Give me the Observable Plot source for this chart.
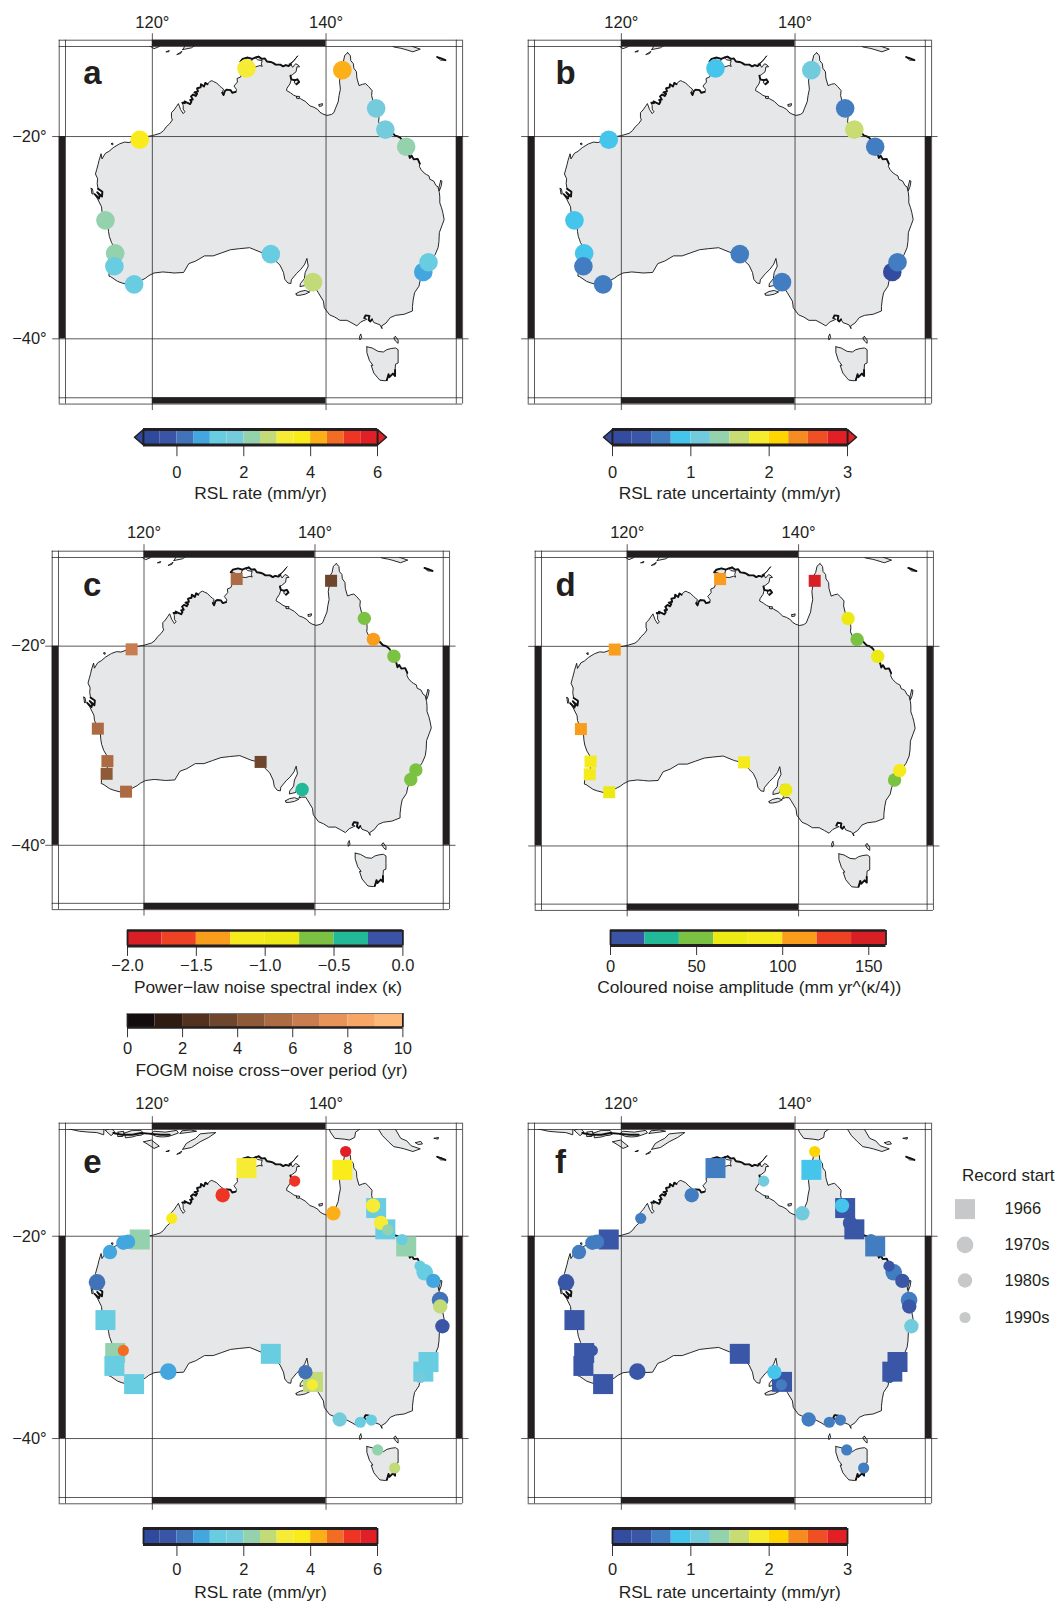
<!DOCTYPE html>
<html><head><meta charset="utf-8">
<script src="https://cdn.jsdelivr.net/npm/d3@7"></script>
<script src="https://cdn.jsdelivr.net/npm/@observablehq/plot@0.6"></script>
<style>html,body{margin:0;padding:0;background:#fff;overflow:hidden}#page{position:relative;width:1058px;height:1602px;overflow:hidden}</style>
</head><body><div id="page"></div>
<script>
// ---------- colour bins ----------
const rateBreaks=[-1,-0.5,0,0.5,1,1.5,2,2.5,3,3.5,4,4.5,5,5.5,6];
const rateColors=["#2f4a9d","#3a55a5","#4272b8","#43a6df","#69cde2","#74cbdc","#93d2ad","#c3da79","#f6ec35","#faeb1a","#fcaf17","#f36c23","#ee3524","#e01f26"];
const uncBreaks=[0,0.25,0.5,0.75,1,1.25,1.5,1.75,2,2.25,2.5,2.75,3];
const uncColors=["#334c9f","#3a56a6","#437dc1","#45c4ec","#72cbdc","#93d2ad","#c8dc74","#f6ec2f","#ffd500","#f68b1f","#f04e23","#e31f26"];
const kappaBreaks=[-2,-1.75,-1.5,-1.25,-1,-0.75,-0.5,-0.25,0];
const kappaColors=["#d91f26","#ef4123","#f99d1c","#f5ea1b","#ece915","#7cc242","#21b998","#3a53a4"];
const ampBreaks=[0,20,40,60,80,100,120,140,160];
const ampColors=["#3a53a4","#21b998","#7cc242","#ece915","#f5ea1b","#f99d1c","#ef4123","#d91f26"];
const fogmBreaks=[0,1,2,3,4,5,6,7,8,9,10];
const fogmColors=["#130c0e","#2f1b12","#52321e","#6e452d","#8f5a37","#ad6b43","#c97d4e","#e8935a","#f6a768","#fbb879"];

// ---------- long-record tide gauges (panels a-f) ----------
const longNames=["Darwin","Weipa","Cairns","Townsville","Mackay","Port Hedland","Geraldton","Fremantle","Bunbury","Albany","Thevenard","Port Adelaide","Sydney","Newcastle"];
const longLon=[130.84,141.88,145.77,146.83,149.23,118.55,114.6,115.72,115.63,117.9,133.64,138.5,151.2,151.8];
const longLat=[-12.47,-12.67,-16.92,-19.25,-21.1,-20.35,-28.78,-32.05,-33.3,-35.03,-32.13,-34.82,-33.85,-32.92];
const rateA=[3.25,4.25,1.75,1.75,2.25,3.75,2.25,2.25,1.25,1.25,1.25,2.75,0.75,1.25];
const uncB=[0.875,1.125,0.625,1.625,0.625,0.875,0.875,0.875,0.625,0.625,0.625,0.625,0.125,0.625];
const kappaC=[null,null,-0.6,-1.4,-0.6,null,null,null,null,null,null,-0.4,-0.6,-0.6];
const fogmC=[5.5,3.5,null,null,null,6.5,5.5,5.5,4.5,5.5,3.5,null,null,null];
const ampD=[110,150,70,50,70,110,110,90,90,70,90,70,50,90];
const rateE=[3.25,3.75,1.25,1.25,2.25,2.25,1.25,2.25,1.25,1.25,1.25,2.75,1.25,1.25];
const uncF=[0.625,0.875,0.375,0.375,0.625,0.375,0.375,0.375,0.375,0.375,0.375,0.375,0.375,0.375];

// ---------- shorter-record gauges (panels e, f) ----------
const shortNames=["Carnarvon","Exmouth","Onslow","Dampier","Esperance","Gladstone","Mooloolaba","Whyalla","Wyndham","Karumba","Port Douglas","Lucinda","Bundaberg","Brisbane","Yamba","Portland","Hillarys","Thursday Island","Milner Bay","Broome","Cape Ferguson","Shute Harbour","Rosslyn Bay","Victor Harbor","Lorne","Stony Point","Burnie","Spring Bay","Port Kembla"];
const shortLon=[113.63,115.12,117.2,116.66,121.84,151.36,153.13,137.62,128.1,140.84,145.41,146.33,152.36,153.15,153.4,141.57,116.66,142.26,136.39,122.23,147.1,148.75,150.82,138.43,143.95,145.22,145.95,147.9,150.86];
const shortLat=[-24.9,-21.7,-20.6,-20.7,-33.85,-23.85,-26.75,-33.9,-15.5,-17.5,-16.65,-18.55,-24.75,-27.4,-29.4,-38.3,-31.8,-10.6,-13.93,-18.05,-19.3,-20.35,-23.2,-35.1,-38.55,-38.35,-41.0,-42.55,-34.4];
const shortDecade=[1970,1980,1980,1980,1970,1970,1970,1980,1980,1980,1980,1980,1980,1980,1980,1980,1990,1990,1990,1990,1990,1990,1990,1990,1990,1990,1990,1990,1990];
const shortRate=[0.25,0.75,0.75,0.75,0.75,1.25,0.25,0.25,5.25,4.25,3.25,3.25,0.75,2.75,-0.25,1.75,4.75,5.75,5.25,3.75,2.25,1.25,1.25,3.25,1.25,1.25,2.25,2.75,1.75];
const shortUnc=[0.375,0.625,0.625,0.625,0.375,0.625,0.625,0.875,0.625,1.125,0.875,0.375,0.375,0.375,1.125,0.625,0.375,2.125,1.125,0.625,0.375,0.625,0.375,0.625,0.625,0.625,0.625,0.625,0.375];

// ---------- coastlines [lon,lat] ----------
const mainland=[[142.5,-10.7],[142.8,-11.05],[142.85,-11.6],[143.15,-11.95],[143.2,-12.45],[143.5,-12.85],[143.55,-13.55],[143.8,-14.4],[144.2,-14.25],[144.55,-14.18],[144.9,-14.5],[145.3,-14.95],[145.25,-15.5],[145.45,-16.3],[145.8,-16.85],[146.05,-17.4],[146.1,-17.95],[146.05,-18.4],[146.3,-18.9],[146.85,-19.25],[147.45,-19.4],[147.95,-19.9],[148.25,-19.98],[148.5,-20.1],[148.75,-20.35],[148.95,-20.85],[149.2,-21.1],[149.45,-21.6],[149.65,-22.3],[149.85,-22.05],[150.1,-22.45],[150.55,-22.4],[150.8,-22.9],[150.75,-23.2],[150.95,-23.55],[151.3,-23.9],[151.55,-24.05],[151.85,-24.2],[151.95,-24.55],[152.4,-24.75],[152.65,-25.2],[152.9,-25.35],[152.95,-25.6],[153.05,-25.95],[153.1,-26.4],[153.1,-27.0],[153.3,-27.5],[153.45,-28.0],[153.6,-28.7],[153.35,-29.3],[153.05,-30.0],[153.0,-30.9],[152.9,-31.5],[152.55,-32.2],[152.1,-32.75],[151.7,-33.05],[151.3,-33.6],[151.15,-34.1],[150.85,-34.6],[150.7,-35.2],[150.2,-35.8],[150.05,-36.4],[149.95,-37.1],[149.95,-37.5],[149.0,-37.8],[148.0,-37.9],[147.4,-38.1],[146.9,-38.6],[146.4,-38.85],[146.45,-39.1],[146.2,-38.75],[145.5,-38.55],[145.3,-38.25],[145.1,-38.45],[144.9,-38.3],[145.0,-37.95],[144.55,-37.9],[144.4,-38.15],[144.7,-38.25],[144.0,-38.5],[143.55,-38.85],[143.0,-38.6],[142.4,-38.35],[141.6,-38.35],[141.0,-38.05],[140.4,-37.85],[139.8,-37.2],[139.7,-36.6],[139.1,-35.8],[138.9,-35.55],[138.45,-35.55],[138.1,-35.65],[138.5,-35.1],[138.5,-34.75],[138.1,-34.3],[137.9,-34.6],[137.75,-35.1],[137.0,-35.25],[137.05,-34.95],[137.5,-34.5],[137.6,-33.9],[137.95,-33.3],[137.8,-32.55],[137.55,-33.1],[137.1,-33.6],[136.6,-34.0],[136.0,-34.6],[135.95,-34.95],[135.6,-34.9],[135.25,-34.55],[135.1,-33.9],[134.7,-33.2],[134.2,-32.8],[133.7,-32.15],[133.2,-32.1],[132.5,-31.95],[131.2,-31.5],[130.0,-31.6],[129.0,-31.7],[128.0,-32.0],[127.0,-32.3],[126.0,-32.3],[125.0,-32.8],[124.2,-33.05],[123.6,-33.9],[122.5,-33.95],[121.9,-33.9],[121.2,-33.85],[120.2,-33.95],[119.6,-34.2],[119.2,-34.45],[118.5,-34.75],[117.9,-35.05],[117.2,-35.05],[116.5,-34.9],[116.0,-34.75],[115.2,-34.3],[115.0,-34.25],[115.05,-33.7],[115.4,-33.6],[115.7,-33.2],[115.7,-32.5],[115.75,-32.0],[115.65,-31.5],[115.3,-31.0],[115.05,-30.4],[114.95,-29.9],[114.9,-29.3],[114.6,-28.8],[114.2,-27.9],[114.15,-27.4],[113.7,-26.6],[113.35,-26.1],[113.7,-26.4],[113.85,-26.55],[113.95,-26.25],[113.65,-25.9],[114.2,-26.35],[114.25,-25.85],[113.75,-25.55],[113.65,-25.0],[113.7,-24.5],[113.45,-24.0],[113.6,-23.5],[113.75,-23.0],[113.85,-22.6],[114.1,-21.85],[114.2,-22.4],[114.6,-21.8],[115.0,-21.6],[115.5,-21.2],[116.2,-20.8],[116.8,-20.6],[117.3,-20.65],[118.2,-20.35],[118.9,-20.05],[119.4,-20.0],[120.0,-19.9],[120.9,-19.65],[121.3,-19.35],[121.6,-18.95],[122.0,-18.6],[122.3,-18.2],[122.2,-17.9],[122.2,-17.4],[122.5,-17.1],[122.75,-16.75],[123.0,-16.4],[123.25,-17.05],[123.55,-17.5],[123.75,-17.3],[123.55,-17.0],[123.55,-16.6],[123.45,-16.3],[123.75,-16.35],[123.7,-16.15],[124.0,-16.3],[124.35,-16.45],[124.5,-16.2],[124.35,-16.0],[124.65,-15.95],[124.45,-15.6],[124.7,-15.4],[125.0,-15.55],[125.15,-15.3],[124.85,-15.15],[125.25,-15.05],[125.15,-14.7],[125.55,-14.6],[125.6,-14.25],[125.95,-14.5],[126.1,-14.1],[126.35,-14.25],[126.6,-13.95],[126.85,-13.85],[127.05,-13.95],[127.4,-14.1],[127.75,-14.45],[128.0,-14.65],[128.2,-14.8],[128.05,-15.2],[128.2,-15.45],[128.35,-15.0],[128.55,-14.85],[129.0,-14.9],[129.2,-15.2],[129.6,-15.1],[129.7,-14.85],[129.4,-14.45],[129.8,-14.0],[129.75,-13.6],[130.15,-13.45],[130.3,-13.1],[130.6,-12.75],[130.85,-12.5],[130.95,-12.75],[131.05,-12.25],[131.4,-12.25],[131.9,-12.3],[132.4,-12.15],[132.65,-12.25],[132.55,-11.95],[132.65,-11.6],[132.1,-11.5],[131.85,-11.25],[132.25,-11.15],[132.6,-11.4],[132.95,-11.35],[133.2,-11.7],[133.6,-11.75],[133.9,-11.85],[134.2,-12.05],[134.75,-12.05],[135.05,-12.25],[135.35,-12.1],[135.7,-12.2],[135.95,-12.0],[136.15,-12.35],[136.5,-11.95],[136.8,-12.1],[136.95,-12.3],[136.65,-12.3],[136.55,-12.85],[136.1,-13.2],[135.9,-13.3],[136.0,-13.7],[135.85,-14.2],[135.5,-14.7],[135.45,-14.95],[135.9,-15.2],[136.25,-15.45],[136.6,-15.6],[137.05,-15.85],[137.6,-16.15],[138.15,-16.65],[138.6,-16.8],[139.05,-17.05],[139.3,-17.35],[139.65,-17.55],[140.1,-17.7],[140.6,-17.6],[140.9,-17.4],[141.1,-16.9],[141.4,-16.2],[141.5,-15.5],[141.65,-14.8],[141.55,-13.9],[141.65,-13.3],[141.6,-12.9],[141.85,-12.5],[141.7,-12.2],[142.0,-11.7],[142.15,-11.0],[142.5,-10.7]];
const tasmania=[[144.7,-40.7],[145.3,-40.8],[146.0,-41.1],[146.6,-41.15],[147.0,-40.95],[147.5,-40.85],[148.0,-40.8],[148.3,-40.95],[148.3,-41.6],[148.3,-42.1],[148.0,-42.2],[147.95,-42.7],[147.95,-43.2],[147.7,-43.0],[147.3,-43.3],[147.2,-43.05],[147.0,-43.55],[146.8,-43.6],[146.2,-43.55],[145.95,-43.35],[145.5,-42.95],[145.2,-42.3],[145.4,-42.3],[145.0,-41.9],[144.7,-41.2],[144.7,-40.7]];
const kangaroo=[[136.55,-35.9],[137.0,-35.7],[137.6,-35.6],[138.1,-35.75],[137.6,-35.95],[137.0,-36.05],[136.6,-36.05],[136.55,-35.9]];
const kingIs=[[144.0,-39.6],[144.1,-39.9],[143.9,-40.1],[143.85,-39.8],[144.0,-39.6]];
const flinders=[[148.0,-39.8],[148.3,-40.1],[148.3,-40.4],[148.0,-40.2],[147.8,-39.9],[148.0,-39.8]];
const melville=[[130.4,-11.4],[131.0,-11.25],[131.5,-11.4],[131.4,-11.8],[130.9,-11.9],[130.5,-11.75],[130.1,-11.7],[130.4,-11.4]];
const groote=[[136.4,-13.8],[136.7,-13.7],[136.9,-14.0],[136.6,-14.25],[136.35,-14.1],[136.4,-13.8]];
const mornington=[[139.2,-16.5],[139.6,-16.4],[139.55,-16.65],[139.2,-16.7],[139.2,-16.5]];
const pellew=[[136.6,-15.6],[136.95,-15.6],[136.9,-15.85],[136.6,-15.8],[136.6,-15.6]];
const wessel=[[135.75,-12.0],[136.2,-11.7],[136.75,-11.05],[136.3,-11.6],[135.85,-12.05],[135.75,-12.0]];
const dirkHartog=[[112.95,-25.5],[113.1,-25.55],[113.2,-26.05],[113.05,-26.1],[112.95,-25.5]];
const barrow=[[115.3,-20.75],[115.45,-20.7],[115.45,-20.9],[115.3,-20.85],[115.3,-20.75]];
const fraser=[[153.2,-24.7],[153.35,-24.75],[153.25,-25.3],[153.05,-25.75],[153.0,-25.4],[153.2,-24.7]];
const timor=[[123.5,-10.35],[124.5,-10.15],[125.5,-9.5],[126.5,-9.0],[127.3,-8.45],[126.5,-8.5],[125.5,-8.6],[125.0,-9.1],[124.4,-9.4],[123.9,-9.7],[123.5,-10.35]];
const rote=[[122.85,-10.9],[123.4,-10.55],[123.25,-10.8],[122.85,-10.9]];
const savu=[[121.6,-10.6],[121.95,-10.45],[121.9,-10.6],[121.6,-10.6]];
const sumba=[[119.0,-9.5],[119.9,-9.3],[120.8,-10.0],[120.2,-10.25],[119.5,-9.8],[119.0,-9.5]];
const java=[[110.0,-7.5],[110.0,-7.95],[111.6,-8.3],[112.7,-8.4],[113.6,-8.45],[114.4,-8.7],[114.45,-7.5],[110.0,-7.5]];
const bali=[[114.6,-8.2],[114.9,-8.5],[115.25,-8.8],[115.7,-8.4],[115.2,-7.9],[114.6,-8.2]];
const lombok=[[116.05,-8.4],[116.0,-8.9],[116.6,-8.9],[116.7,-8.3],[116.05,-8.4]];
const sumbawa=[[116.8,-8.5],[116.9,-9.05],[117.7,-8.95],[118.2,-8.8],[118.7,-8.75],[119.0,-8.6],[118.7,-8.2],[117.7,-8.2],[116.8,-8.5]];
const flores=[[119.8,-8.6],[120.5,-8.9],[121.2,-8.95],[121.8,-8.9],[122.3,-8.75],[123.0,-8.5],[122.8,-8.2],[121.5,-8.4],[120.2,-8.3],[119.8,-8.6]];
const alor=[[123.2,-8.55],[124.0,-8.45],[125.1,-8.3],[124.4,-8.15],[123.4,-8.25],[123.2,-8.55]];
const newGuineaW=[[140.15,-7.5],[140.5,-8.4],[141.0,-9.1],[142.1,-9.2],[142.7,-9.3],[143.3,-9.0],[143.4,-8.4],[143.9,-8.05],[143.9,-7.5],[140.15,-7.5]];
const newGuineaE=[[146.0,-7.5],[146.05,-8.1],[146.5,-8.8],[147.2,-9.5],[147.8,-10.05],[148.6,-10.2],[149.0,-10.3],[150.0,-10.6],[150.85,-10.3],[149.8,-9.95],[149.3,-9.4],[148.6,-9.1],[148.0,-8.1],[147.8,-7.5],[146.0,-7.5]];
const woodlark=[[152.45,-9.1],[152.95,-9.0],[152.9,-9.2],[152.45,-9.1]];
const louisiade=[[152.8,-11.2],[153.25,-11.35],[153.75,-11.55],[153.2,-11.55],[152.8,-11.2]];
const fergusson=[[150.3,-9.6],[150.9,-9.45],[151.1,-9.75],[150.6,-9.8],[150.3,-9.6]];
const coastRings=[mainland,tasmania,kangaroo,kingIs,flinders,melville,groote,mornington,pellew,wessel,dirkHartog,barrow,fraser,timor,rote,savu,sumba,java,bali,lombok,sumbawa,flores,alor,newGuineaW,newGuineaE,woodlark,louisiade,fergusson];
const coastPoints=coastRings.flatMap((ring,id)=>ring.map(p=>({lon:p[0],lat:p[1],id})));
// stretches where the fine islets make the coast read as a heavy line
const kimberleyRough=[[123.45,-16.3],[123.75,-16.35],[123.7,-16.15],[124.0,-16.3],[124.35,-16.45],[124.5,-16.2],[124.35,-16.0],[124.65,-15.95],[124.45,-15.6],[124.7,-15.4],[125.0,-15.55],[125.15,-15.3],[124.85,-15.15],[125.25,-15.05],[125.15,-14.7],[125.55,-14.6],[125.6,-14.25],[125.95,-14.5],[126.1,-14.1],[126.35,-14.25]];
const cambridgeRough=[[128.05,-15.2],[128.2,-15.45],[128.35,-15.0],[128.55,-14.85],[129.0,-14.9],[129.2,-15.2],[129.6,-15.1]];
const tiwiRough=[[130.15,-11.7],[130.4,-11.4],[131.0,-11.25],[131.5,-11.4],[131.85,-11.25],[132.25,-11.15]];
const arnhemRough=[[132.25,-11.15],[132.6,-11.4],[132.95,-11.35],[133.2,-11.7],[133.6,-11.75],[133.9,-11.85],[134.2,-12.05],[134.75,-12.05],[135.05,-12.25],[135.35,-12.1],[135.7,-12.2],[135.95,-12.0]];
const grooteRough=[[135.9,-13.3],[136.0,-13.7],[136.4,-13.8],[136.7,-13.7],[136.9,-14.0],[136.6,-14.25]];
const sharkRough=[[113.35,-26.1],[113.7,-26.4],[113.85,-26.55],[113.95,-26.25],[113.65,-25.9],[114.2,-26.35],[114.25,-25.85],[113.75,-25.55]];
const whitsundayRough=[[147.45,-19.4],[147.95,-19.9],[148.25,-19.98],[148.5,-20.1],[148.75,-20.35]];
const shoalwaterRough=[[149.2,-21.1],[149.45,-21.6],[149.65,-22.3],[149.85,-22.05],[150.1,-22.45],[150.55,-22.4],[150.8,-22.9]];
const tasmanRough=[[147.95,-42.7],[147.95,-43.2],[147.7,-43.0],[147.3,-43.3],[147.2,-43.05],[147.0,-43.55]];
const phillipRough=[[145.3,-38.25],[145.1,-38.45],[144.9,-38.3],[145.0,-37.95],[144.55,-37.9],[144.4,-38.15]];
const nusaRough=[[115.5,-8.5],[116.5,-8.7],[117.7,-8.7],[118.7,-8.5],[119.9,-8.6],[121.0,-8.7],[122.0,-8.7]];
const louisiadeRough=[[152.8,-11.2],[153.25,-11.35],[153.75,-11.55]];
const roughRuns=[kimberleyRough,cambridgeRough,tiwiRough,arnhemRough,grooteRough,sharkRough,whitsundayRough,shoalwaterRough,tasmanRough,phillipRough,nusaRough,louisiadeRough];
const roughPoints=roughRuns.flatMap((run,id)=>run.map(p=>({lon:p[0],lat:p[1],id})));

// ---------- helpers ----------
const INK="#231f20", LAND="#e6e7e8", FONT="'Liberation Sans',Arial,sans-serif";
const TICK_FS=16.5, CAP_FS=17.35;
const page=document.getElementById("page");
const merc=lat=>Math.log(Math.tan(Math.PI/4+lat*Math.PI/360))*180/Math.PI;
const longTable=longNames.map((name,i)=>({name,lon:longLon[i],lat:longLat[i],rateA:rateA[i],uncB:uncB[i],kappa:kappaC[i],fogm:fogmC[i],amp:ampD[i],rateE:rateE[i],uncF:uncF[i]}));
const shortTable=shortNames.map((name,i)=>({name,lon:shortLon[i],lat:shortLat[i],decade:shortDecade[i],rate:shortRate[i],unc:shortUnc[i]}));
const thresholds=(breaks,colors)=>({type:"threshold",domain:breaks.slice(1,-1),range:colors});
const place=(el,left,top)=>{el.style.position="absolute";el.style.left=left+"px";el.style.top=top+"px";page.appendChild(el);};
const svgStyle={background:"transparent",fontFamily:FONT,maxWidth:"none",overflow:"visible"};

function mapPanel(c){
  const k=c.k,ml=60,mr=30,mt=45,mb=25;
  const innerL=c.x120-10*k, innerT=c.y20-(merc(c.latTop)-merc(-20))*k, innerH=(merc(c.latTop)-merc(-45))*k;
  const gap=6.3/k, tick=6.5/k;
  const L=110,R=155,B=merc(-45),T=merc(c.latTop);
  const OL=L-gap,OR=R+gap,OB=B-gap,OT=T+gap;
  const bars=[[120,140,T,OT],[120,140,OB,B],[OL,L,merc(-40),merc(-20)],[R,OR,merc(-40),merc(-20)]];
  const lineOpts={stroke:INK,strokeWidth:0.75};
  const marks=[
    Plot.line(coastPoints,{x:"lon",y:d=>merc(d.lat),z:"id",curve:"linear",fill:LAND,stroke:"#111",strokeWidth:0.9,clip:"frame"}),
    Plot.line(roughPoints,{x:"lon",y:d=>merc(d.lat),z:"id",curve:"linear",stroke:"#111",strokeWidth:1.9,clip:"frame"}),
    Plot.ruleX([OL,L,R,OR],{y1:OB,y2:OT,...lineOpts}),
    Plot.ruleY([OB,B,T,OT],{x1:OL,x2:OR,...lineOpts}),
    Plot.ruleX([120,140],{y1:OB-tick,y2:OT+tick,...lineOpts}),
    Plot.ruleY([merc(-20),merc(-40)],{x1:OL-tick,x2:OR+tick,...lineOpts}),
    Plot.rect(bars,{x1:d=>d[0],x2:d=>d[1],y1:d=>d[2],y2:d=>d[3],fill:INK}),
    Plot.axisX([120,140],{anchor:"top",tickSize:0,tickPadding:c.topPad,tickFormat:d=>d+"°",fontSize:TICK_FS,fill:INK,label:null}),
    ...c.marks,
    Plot.text([c.letter],{frameAnchor:"top-left",dx:c.letterX-innerL,dy:c.letterBase-innerT-0.32*33,lineAnchor:"middle",textAnchor:"start",fontSize:33,fontWeight:"bold",fill:INK})
  ];
  if(c.leftPad!=null) marks.push(Plot.axisY([-20,-40].map(merc),{anchor:"left",tickSize:0,tickPadding:c.leftPad,tickFormat:d=>"\u2212"+Math.round(Math.abs(d)<30?20:40)+"°",fontSize:TICK_FS,fill:INK,label:null}));
  const el=Plot.plot({width:45*k+ml+mr,height:innerH+mt+mb,marginLeft:ml,marginRight:mr,marginTop:mt,marginBottom:mb,
    style:svgStyle,x:{domain:[L,R],axis:null,label:null},y:{domain:[B,T],axis:null,label:null},color:c.color,marks});
  place(el,innerL-ml,innerT-mt);
}
function circles(data,fill,r){return Plot.dot(data,{x:"lon",y:d=>merc(d.lat),r,fill,stroke:"none"});}
function squares(data,fill,r){return Plot.dot(data,{x:"lon",y:d=>merc(d.lat),r,fill,symbol:"square",stroke:"none"});}
const SQ=side=>side/Math.sqrt(Math.PI);
function recordMarks(field,shortField){
  return [squares(longTable,field,SQ(20)),
    circles(shortTable.filter(d=>d.decade===1970),shortField,8.3),
    circles(shortTable.filter(d=>d.decade===1980),shortField,7.2),
    circles(shortTable.filter(d=>d.decade===1990),shortField,5.6)];
}
function colorbar(c){
  const ml=60,mr=60,mt=8,mb=70;
  const a=c.breaks[0],b=c.breaks[c.breaks.length-1];
  const bins=c.colors.map((col,i)=>({x1:c.breaks[i],x2:c.breaks[i+1],v:(c.breaks[i]+c.breaks[i+1])/2}));
  const unit=(b-a)/(c.right-c.left);
  const marks=[];
  if(c.arrows){
    const t=9*unit;
    marks.push(Plot.line([[a,0],[a-t,0.5],[a,1],[a,0]],{x:d=>d[0],y:d=>d[1],curve:"linear",fill:c.colors[0],stroke:INK,strokeWidth:1.6}));
    marks.push(Plot.line([[b,0],[b+t,0.5],[b,1],[b,0]],{x:d=>d[0],y:d=>d[1],curve:"linear",fill:c.colors[c.colors.length-1],stroke:INK,strokeWidth:1.6}));
  }
  marks.push(
    Plot.rect(bins,{x1:"x1",x2:"x2",y1:0,y2:1,fill:"v"}),
    Plot.ruleX([a,b],{y1:0,y2:1,stroke:INK,strokeWidth:1.8}),
    Plot.ruleY([0],{x1:a,x2:b,stroke:INK,strokeWidth:c.lowEdge}),
    Plot.ruleY([1],{x1:a,x2:b,stroke:c.topInk||INK,strokeWidth:c.topEdge}),
    Plot.axisX(c.ticks,{anchor:"bottom",tickSize:c.tickBottom-c.bottom,tickPadding:c.labelBase-c.tickBottom-0.71*TICK_FS,tickFormat:c.fmt,fontSize:TICK_FS,stroke:INK,fill:INK,strokeWidth:0.9,label:null}),
    Plot.text([c.caption],{x:a+(c.capX-c.left)*unit,y:0,dy:c.capBase-c.bottom-0.32*CAP_FS,fontSize:CAP_FS,fill:INK,textAnchor:"middle",lineAnchor:"middle"})
  );
  const el=Plot.plot({width:c.right-c.left+ml+mr,height:c.bottom-c.top+mt+mb,marginLeft:ml,marginRight:mr,marginTop:mt,marginBottom:mb,
    style:svgStyle,x:{domain:[a,b],axis:null,label:null},y:{domain:[0,1],axis:null,label:null},color:thresholds(c.breaks,c.colors),marks});
  place(el,c.left-ml,c.top-mt);
}

// ---------- panels ----------
const rateScale=thresholds(rateBreaks,rateColors), uncScale=thresholds(uncBreaks,uncColors),
      kappaScale=thresholds(kappaBreaks,kappaColors), ampScale=thresholds(ampBreaks,ampColors);
const fogmFill=d3.scaleThreshold(fogmBreaks.slice(1,-1),fogmColors);
const kappaRows=longTable.filter(d=>d.kappa!=null), fogmRows=longTable.filter(d=>d.fogm!=null);
const ampSquares=longTable.filter(d=>d.fogm!=null), ampCircles=longTable.filter(d=>d.fogm==null);

mapPanel({letter:"a",k:8.685,x120:151.7,y20:136.3,latTop:-10,topPad:18.5,leftPad:18.8,letterX:82.5,letterBase:84,color:rateScale,marks:[circles(longTable,"rateA",9.3)]});
mapPanel({letter:"b",k:8.685,x120:621.3,y20:136.3,latTop:-10,topPad:18.5,letterX:555.5,letterBase:84,color:uncScale,marks:[circles(longTable,"uncB",9.3)]});
mapPanel({letter:"c",k:8.55,x120:143.5,y20:646,latTop:-10,topPad:19,leftPad:12.6,letterX:82.5,letterBase:596,color:kappaScale,
  marks:[squares(fogmRows,d=>fogmFill(d.fogm),SQ(12)),circles(kappaRows,"kappa",6.7)]});
mapPanel({letter:"d",k:8.57,x120:626.7,y20:646,latTop:-10,topPad:19,letterX:555,letterBase:596,color:ampScale,
  marks:[squares(ampSquares,"amp",SQ(12)),circles(ampCircles,"amp",6.7)]});
mapPanel({letter:"e",k:8.685,x120:151.7,y20:1236,latTop:-8.1,topPad:20.5,leftPad:18.8,letterX:82.5,letterBase:1172.7,color:rateScale,marks:recordMarks("rateE","rate")});
mapPanel({letter:"f",k:8.685,x120:621.3,y20:1236,latTop:-8.1,topPad:20.5,letterX:555,letterBase:1172.7,color:uncScale,marks:recordMarks("uncF","unc")});

// ---------- colour bars ----------
const plain=d=>String(d), oneDec=d=>d.toFixed(1).replace("-","\u2212");
const RATE_CAP="RSL rate (mm/yr)", UNC_CAP="RSL rate uncertainty (mm/yr)";
colorbar({breaks:rateBreaks,colors:rateColors,ticks:[0,2,4,6],fmt:plain,caption:RATE_CAP,left:143.3,right:377.3,top:428.5,bottom:444,tickBottom:455.7,labelBase:476.5,capBase:498.3,capX:260.3,arrows:true,lowEdge:3,topEdge:3});
colorbar({breaks:uncBreaks,colors:uncColors,ticks:[0,1,2,3],fmt:plain,caption:UNC_CAP,left:612.3,right:847.3,top:428.5,bottom:444,tickBottom:455.7,labelBase:476.5,capBase:498.3,capX:729.5,arrows:true,lowEdge:3,topEdge:3});
colorbar({breaks:kappaBreaks,colors:kappaColors,ticks:[-2,-1.5,-1,-0.5,0],fmt:oneDec,caption:"Power\u2212law noise spectral index (\u03ba)",left:127.3,right:402.7,top:929.6,bottom:945,tickBottom:955.5,labelBase:970.5,capBase:992.4,capX:267.8,lowEdge:3,topEdge:2.5});
colorbar({breaks:fogmBreaks,colors:fogmColors,ticks:[0,2,4,6,8,10],fmt:plain,caption:"FOGM noise cross\u2212over period (yr)",left:127.3,right:402.7,top:1012.8,bottom:1026.8,tickBottom:1037,labelBase:1053.5,capBase:1075.6,capX:271.3,lowEdge:2.6,topEdge:1.2,topInk:"#777"});
colorbar({breaks:ampBreaks,colors:ampColors,ticks:[0,50,100,150],fmt:plain,caption:"Coloured noise amplitude (mm yr^(\u03ba/4))",left:610,right:885.5,top:930,bottom:945,tickBottom:955,labelBase:971,capBase:992.6,capX:748.7,lowEdge:3,topEdge:2.5});
colorbar({breaks:rateBreaks,colors:rateColors,ticks:[0,2,4,6],fmt:plain,caption:RATE_CAP,left:143.3,right:377.3,top:1528,bottom:1544,tickBottom:1556,labelBase:1574.5,capBase:1597,capX:260.3,lowEdge:3,topEdge:3});
colorbar({breaks:uncBreaks,colors:uncColors,ticks:[0,1,2,3],fmt:plain,caption:UNC_CAP,left:612.3,right:847.3,top:1528,bottom:1544,tickBottom:1556,labelBase:1574.5,capBase:1597,capX:729.5,lowEdge:3,topEdge:3});

// ---------- record-start legend ----------
const legendLabels=["1966","1970s","1980s","1990s"];
const legendY=[1208.6,1244.4,1280,1317];
const legendR=[SQ(20),8.3,7.2,5.6];
const legendRows=legendLabels.map((label,i)=>({label,y:legendY[i],r:legendR[i]}));
place(Plot.plot({width:128,height:190,margin:0,style:svgStyle,x:{domain:[930,1058],axis:null,label:null},y:{domain:[1150,1340],range:[0,190],axis:null,label:null},
  marks:[
    Plot.text(["Record start"],{x:961.5,y:1175,fontSize:17,fill:INK,textAnchor:"start"}),
    Plot.dot(legendRows.slice(0,1),{x:964.5,y:"y",r:legendR[0],symbol:"square",fill:"#c7c8ca"}),
    ...legendRows.slice(1).map(row=>Plot.dot([row],{x:964.5,y:"y",r:row.r,fill:"#c7c8ca"})),
    Plot.text(legendRows,{x:1004,y:"y",text:"label",fontSize:16.5,fill:INK,textAnchor:"start"})
  ]}),930,1150);
</script></body></html>
